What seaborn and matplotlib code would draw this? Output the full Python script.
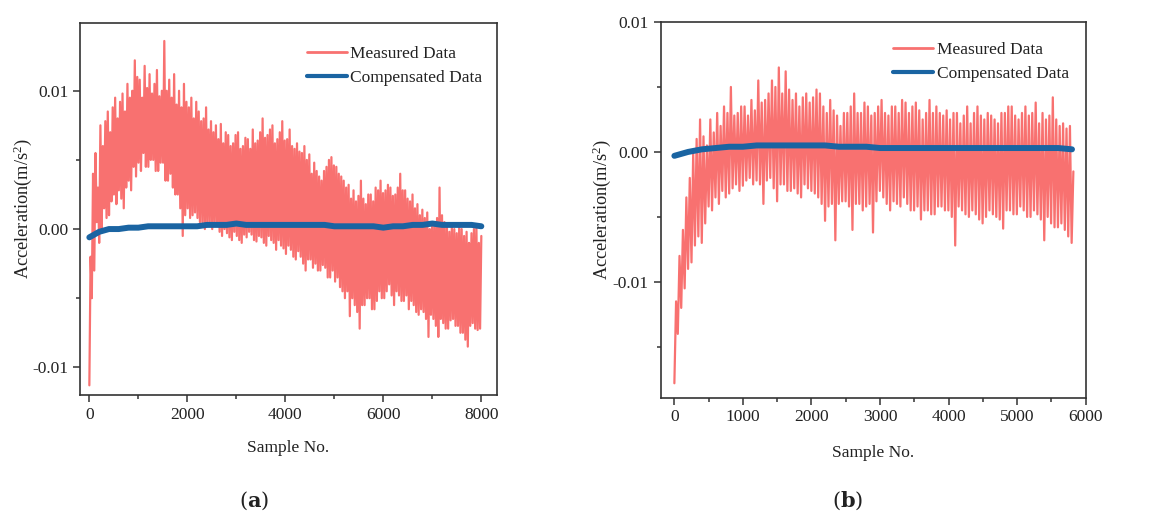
import numpy as np
import pandas as pd
import matplotlib
matplotlib.use("Agg")
import matplotlib.pyplot as plt
import seaborn as sns
from matplotlib.ticker import MultipleLocator, FuncFormatter

# ---------------- data (units of 1e-4 m/s^2) ----------------
# Panel (a): measured data, lower / upper swing every 50 samples (0..7950)
a_meas_lo_e4 = [-113, -50, -30, 5, -10, -2, 15, 8, 10, 20,
                25, 18, 28, 22, 15, 30, 35, 28, 45, 38,
                48, 42, 55, 45, 45, 50, 50, 42, 42, 48,
                48, 35, 35, 40, 30, 25, 25, 15, -5, 10,
                15, 8, 10, 12, 8, 5, 5, 0, 2, 5,
                0, 3, 3, -2, -5, 0, -3, -6, -8, -2,
                -5, -8, -10, -4, -6, -2, -4, -8, -9, -5,
                -6, -10, -12, -5, -8, -10, -15, -8, -12, -14,
                -18, -12, -15, -20, -22, -16, -20, -25, -30, -22,
                -22, -28, -25, -30, -30, -26, -28, -35, -35, -30,
                -38, -35, -42, -45, -50, -45, -63, -50, -55, -60,
                -72, -55, -55, -50, -50, -58, -58, -52, -45, -50,
                -50, -45, -40, -48, -55, -45, -48, -52, -52, -48,
                -58, -52, -55, -60, -62, -58, -60, -65, -78, -62,
                -65, -70, -78, -65, -68, -72, -72, -66, -65, -70,
                -70, -75, -75, -80, -85, -70, -68, -72, -73, -72]
a_meas_hi_e4 = [-20, 40, 55, 30, 75, 60, 78, 85, 70, 88,
                95, 80, 92, 98, 85, 105, 95, 100, 122, 110,
                108, 95, 118, 102, 112, 98, 105, 115, 96, 100,
                136, 100, 108, 95, 112, 90, 100, 88, 105, 92,
                88, 95, 80, 92, 85, 78, 80, 88, 72, 78,
                70, 75, 65, 76, 62, 70, 68, 60, 62, 68,
                70, 58, 60, 66, 65, 58, 72, 62, 64, 70,
                80, 66, 68, 72, 75, 62, 65, 70, 78, 64,
                65, 72, 60, 58, 62, 56, 55, 60, 50, 54,
                40, 48, 42, 38, 35, 42, 45, 50, 52, 46,
                45, 40, 38, 35, 30, 32, 22, 28, 20, 24,
                35, 22, 18, 25, 25, 20, 30, 28, 35, 26,
                28, 32, 30, 24, 25, 30, 40, 28, 28, 22,
                20, 25, 15, 18, 10, 14, 8, 12, 0, 5,
                5, 8, 30, 10, 5, 2, -2, 3, 0, -3,
                2, 0, -5, -2, -10, -3, 0, 2, -10, -5]
# Panel (a): compensated data every 200 samples (0..8000)
a_comp_e4 = [-6, -2, 0, 0, 1, 1, 2, 2, 2, 2,
             2, 2, 3, 3, 3, 4, 3, 3, 3, 3,
             3, 3, 3, 3, 3, 2, 2, 2, 2, 2,
             1, 2, 2, 3, 3, 4, 3, 3, 3, 3, 2]

# Panel (b): measured data, lower / upper swing every 50 samples (0..5800)
b_meas_lo_e4 = [-178, -140, -120, -105, -90, -85, -72, -65, -70, -55,
                -42, -45, -35, -40, -30, -35, -32, -28, -25, -30,
                -26, -22, -20, -25, -22, -25, -40, -22, -20, -28,
                -38, -25, -25, -30, -30, -28, -32, -35, -25, -28,
                -30, -32, -35, -40, -53, -42, -40, -68, -40, -38,
                -38, -42, -60, -40, -40, -45, -42, -40, -62, -38,
                -30, -35, -40, -45, -38, -40, -42, -35, -40, -45,
                -45, -42, -52, -45, -45, -48, -48, -42, -42, -45,
                -45, -50, -72, -42, -45, -48, -50, -45, -48, -52,
                -55, -50, -45, -48, -50, -52, -59, -45, -45, -48,
                -48, -42, -45, -50, -50, -45, -48, -52, -68, -50,
                -55, -58, -58, -55, -60, -65, -70]
b_meas_hi_e4 = [-115, -80, -60, -35, -20, 0, 10, 25, 12, 5,
                25, 15, 30, 20, 35, 30, 50, 28, 30, 35,
                35, 28, 40, 32, 55, 38, 40, 45, 55, 50,
                65, 45, 62, 48, 40, 45, 35, 42, 45, 38,
                42, 48, 45, 35, 30, 40, 32, 28, 20, 30,
                30, 35, 45, 30, 30, 38, 35, 28, 30, 35,
                40, 30, 28, 35, 35, 30, 40, 38, 30, 35,
                38, 32, 25, 30, 40, 30, 35, 30, 28, 32,
                25, 30, 30, 22, 28, 35, 22, 30, 35, 28,
                25, 30, 28, 25, 22, 30, 30, 35, 35, 28,
                25, 30, 35, 28, 30, 38, 22, 30, 25, 28,
                42, 25, 20, 22, 18, 20, -15]
# Panel (b): compensated data every 200 samples (0..5800)
b_comp_e4 = [-3, 0, 2, 3, 4, 4, 5, 5, 5, 5,
             5, 5, 4, 4, 4, 3, 3, 3, 3, 3,
             3, 3, 3, 3, 3, 3, 3, 3, 3, 2]

a_meas_end, a_comp_end = 8000, 8000
b_meas_end, b_comp_end = 5820, 5800
legend_labels = ["Measured Data", "Compensated Data"]
panel_labels = ["a", "b"]
x_label = "Sample No."
y_label = "Acceleration(m/s$^2$)"

# ---------------- style ----------------
sns.set_style("ticks")
plt.rcParams["font.family"] = ["Liberation Serif", "DejaVu Serif"]
plt.rcParams["mathtext.fontset"] = "custom"
plt.rcParams["mathtext.rm"] = "Liberation Serif"
plt.rcParams["mathtext.it"] = "Liberation Serif:italic"
plt.rcParams["mathtext.bf"] = "DejaVu Serif:bold"

RED = "#F87170"
BLUE = "#1A64A2"
AX_COL = "#333333"
TXT = "#222222"
FS = 12.5


def interleave(lo, hi):
    out = []
    for l, h in zip(lo, hi):
        out.extend([l, h])
    return out


fig = plt.figure(figsize=(11.55, 5.11), dpi=100)
ax_a = fig.add_axes([0.0693, 0.227, 0.361, 0.728])
ax_b = fig.add_axes([0.572, 0.222, 0.368, 0.735])

panels = [
    dict(ax=ax_a, lo=a_meas_lo_e4, hi=a_meas_hi_e4, comp=a_comp_e4,
         mend=a_meas_end, cend=a_comp_end, xl=(-190, 8320), yl=(-0.0120, 0.0149),
         xmaj=2000, leg=(0.981, 0.957), xlab_y=-0.121, ylab_x=-0.110, label="a"),
    dict(ax=ax_b, lo=b_meas_lo_e4, hi=b_meas_hi_e4, comp=b_comp_e4,
         mend=b_meas_end, cend=b_comp_end, xl=(-200, 6000), yl=(-0.0189, 0.0100),
         xmaj=1000, leg=(0.977, 0.965), xlab_y=-0.126, ylab_x=-0.112, label="b"),
]

for p in panels:
    ax = p["ax"]
    meas = np.array(interleave(p["lo"], p["hi"])) * 1e-4
    comp = np.array(p["comp"]) * 1e-4
    dm = pd.DataFrame({"x": np.linspace(0, p["mend"], len(meas)), "y": meas})
    dc = pd.DataFrame({"x": np.linspace(0, p["cend"], len(comp)), "y": comp})
    sns.lineplot(data=dm, x="x", y="y", ax=ax, color=RED, lw=1.6,
                 errorbar=None, sort=False, label=legend_labels[0])
    sns.lineplot(data=dc, x="x", y="y", ax=ax, color=BLUE, lw=4.3,
                 errorbar=None, sort=False, label=legend_labels[1],
                 solid_capstyle="round")
    ax.set_xlim(*p["xl"])
    ax.set_ylim(*p["yl"])
    ax.xaxis.set_major_locator(MultipleLocator(p["xmaj"]))
    ax.xaxis.set_minor_locator(MultipleLocator(p["xmaj"] / 2))
    ax.yaxis.set_major_locator(MultipleLocator(0.01))
    ax.yaxis.set_minor_locator(MultipleLocator(0.005))
    ax.yaxis.set_major_formatter(FuncFormatter(
        lambda v, pos: "0.00" if abs(v) < 1e-9 else f"{v:.2f}"))
    ax.tick_params(which="major", direction="out", length=5, width=1.1,
                   labelsize=FS, colors=AX_COL, labelcolor=TXT)
    ax.tick_params(which="minor", direction="out", length=3, width=1.1, colors=AX_COL)
    for s in ax.spines.values():
        s.set_visible(True)
        s.set_color(AX_COL)
        s.set_linewidth(1.2)
    ax.set_xlabel(x_label, fontsize=FS, color=TXT)
    ax.set_ylabel(y_label, fontsize=13.2, color=TXT)
    ax.xaxis.set_label_coords(0.5, p["xlab_y"])
    ax.yaxis.set_label_coords(p["ylab_x"], 0.5)
    leg = ax.legend(loc="upper right", bbox_to_anchor=p["leg"], borderaxespad=0,
                    frameon=False, fontsize=FS, handlelength=2.3,
                    handletextpad=0.2, labelspacing=0.45)
    for line, lw in zip(leg.get_lines(), [2, 3]):
        line.set_linewidth(lw)
    for t in leg.get_texts():
        t.set_color(TXT)

fig.text(0.220, 0.020, r"($\mathbf{a}$)", fontsize=15, ha="center", va="center",
         family=["DejaVu Serif"], color=TXT)
fig.text(0.734, 0.020, r"($\mathbf{b}$)", fontsize=15, ha="center", va="center",
         family=["DejaVu Serif"], color=TXT)

fig.savefig("out.png", dpi=100)
